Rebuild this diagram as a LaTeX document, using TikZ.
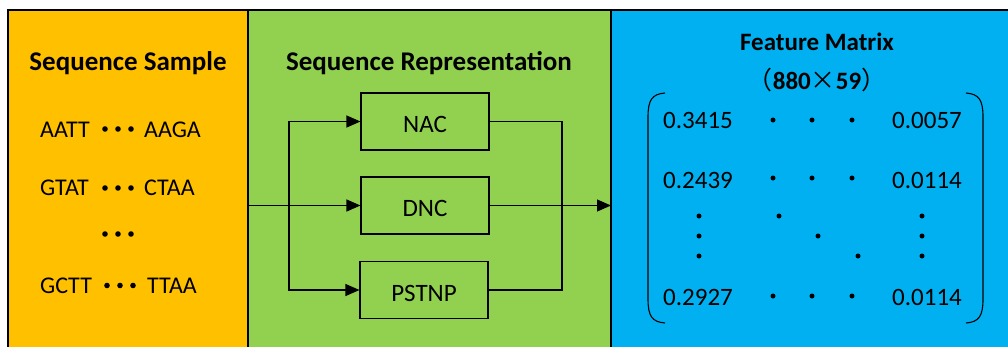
\documentclass[tikz,border=0pt]{standalone}
\usepackage{fontspec}
\setmainfont{Carlito}
\newfontfamily\cjk{Noto Sans CJK SC}
\usetikzlibrary{arrows.meta}
\definecolor{panelorange}{HTML}{FFC000}
\definecolor{panelgreen}{HTML}{92D050}
\definecolor{panelblue}{HTML}{00B0F0}
\tikzset{
  panel/.style={draw=black, line width=1.3pt},
  ttl/.style={font=\fontsize{27}{30}\selectfont\bfseries, inner sep=0pt, anchor=base},
  ttlsmall/.style={font=\fontsize{25}{28}\selectfont\bfseries, inner sep=0pt, anchor=base},
  seqtxt/.style={font=\fontsize{24}{26}\selectfont, inner sep=0pt, anchor=base west},
  numtxt/.style={font=\fontsize{25}{28}\selectfont, inner sep=0pt, anchor=base},
  stepbox/.style={draw=black, line width=1.1pt, minimum width=128pt, minimum height=57pt,
    inner sep=0pt, text height=22pt, text depth=0pt, font=\fontsize{25}{28}\selectfont},
  conn/.style={line width=1.1pt},
  arr/.style={line width=1.1pt, -{Triangle[length=14pt,width=12pt]}},
  mdot/.style={fill=black, circle, inner sep=0pt, minimum size=5pt},
  sdot/.style={fill=black, circle, inner sep=0pt, minimum size=5.6pt},
  paren/.style={line width=1.1pt}
}
\begin{document}
\begin{tikzpicture}[x=1pt,y=-1pt]
\useasboundingbox (0,0) rectangle (1008,346);
\fill[white] (0,0) rectangle (1008,346);
% panels
\fill[panelorange] (8,10) rectangle (248,350);
\fill[panelgreen] (248,10) rectangle (611,350);
\fill[panelblue] (611,10) rectangle (1010,350);
\draw[panel] (8,350) -- (8,10) -- (1010,10);
\draw[panel] (248,10) -- (248,350);
\draw[panel] (611,10) -- (611,350);
% left panel
\node[ttl] (t1) at (128,70) {Sequence Sample};
\node[seqtxt] (s1a) at (40,137) {AATT};
\node[seqtxt] (s1b) at (144,137) {AAGA};
\node[seqtxt] (s2a) at (40,195) {GTAT};
\node[seqtxt] (s2b) at (144,195) {CTAA};
\node[seqtxt] (s4a) at (40,293) {GCTT};
\node[seqtxt] (s4b) at (147,293) {TTAA};
\foreach \y in {129,188} {
  \foreach \x in {105,118,131} { \node[sdot] at (\x,\y) {}; }
}
\foreach \x in {105,118,131} { \node[sdot] at (\x,234) {}; }
\foreach \x in {107,120,133} { \node[sdot] at (\x,285.5) {}; }
% middle panel
\node[ttl] (t2) at (429,70) {Sequence Representation};
\node[stepbox] (nac) at (425,121.5) {NAC};
\node[stepbox] (dnc) at (425,205.5) {DNC};
\node[stepbox] (pstnp) at (424,290) {PSTNP};
\coordinate (in) at (248,205.5);
\coordinate (split) at (289,205.5);
\coordinate (join) at (562,205.5);
\coordinate (out) at (611,205.5);
\draw[arr] (in) -- (dnc.west);
\draw[arr] (split) |- (nac.west);
\draw[arr] (split) |- (pstnp.west);
\draw[conn] (nac.east) -| (join);
\draw[conn] (pstnp.east) -| (join);
\draw[arr] (dnc.east) -- (out);
% right panel
\node[ttlsmall] (t3) at (817,50) {Feature Matrix};
\node[ttlsmall] (t4) at (817,89) {{\cjk\mdseries （}880{\cjk\mdseries ×}59{\cjk\mdseries ）}};
\draw[paren] (665,93) .. controls (652,94) and (648,100) .. (648,117) -- (648,299)
  .. controls (648,316) and (652,322) .. (665,323);
\draw[paren] (966,93) .. controls (979,94) and (983,100) .. (983,117) -- (983,299)
  .. controls (983,316) and (979,322) .. (966,323);
\node[numtxt] (a11) at (698,128) {0.3415};
\node[numtxt] (a21) at (698,188) {0.2439};
\node[numtxt] (a31) at (698,305) {0.2927};
\node[numtxt] (a1n) at (927,128) {0.0057};
\node[numtxt] (a2n) at (927,188) {0.0114};
\node[numtxt] (a3n) at (927,305) {0.0114};
\foreach \y in {120,178,296} {
  \foreach \x in {773,812,852} { \node[mdot] at (\x,\y) {}; }
}
\foreach \y in {216,236,256} {
  \node[mdot] at (699,\y) {};
  \node[mdot] at (922,\y) {};
}
\node[mdot] at (779,216) {};
\node[mdot] at (818,236) {};
\node[mdot] at (858,256) {};
\end{tikzpicture}
\end{document}
